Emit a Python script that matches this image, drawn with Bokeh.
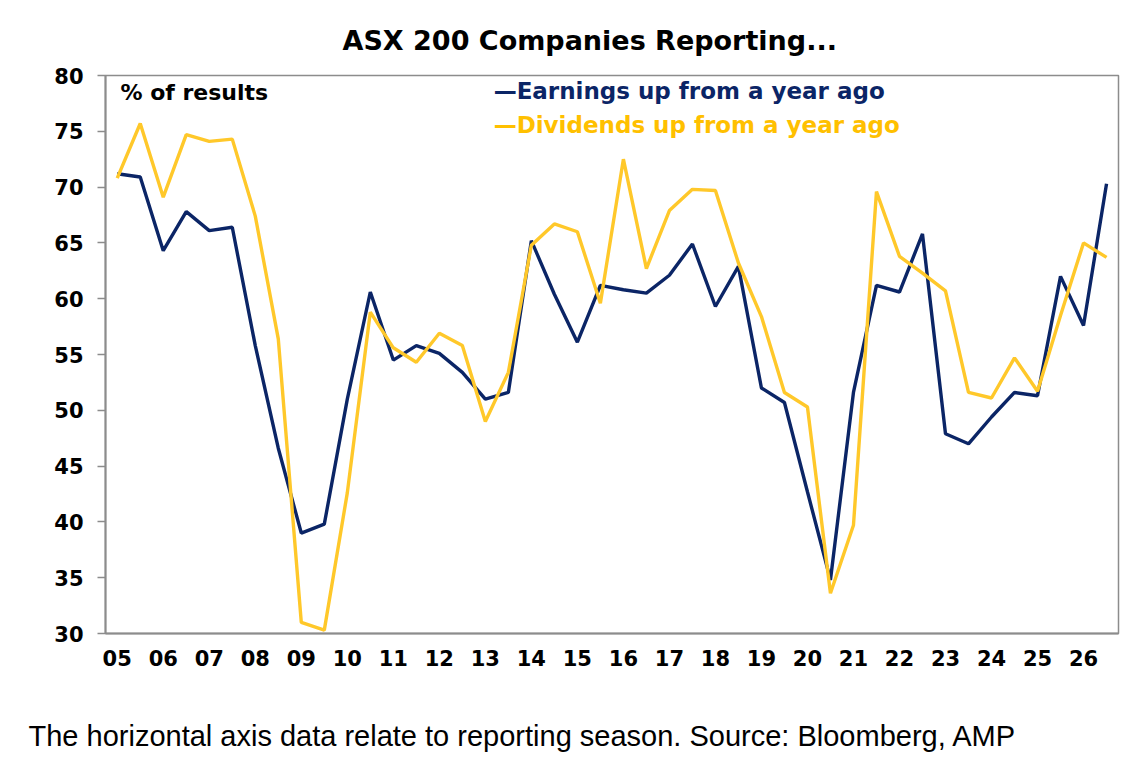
import numpy as np
from bokeh.plotting import figure
from bokeh.models import FixedTicker, Label, Range1d, Title
from bokeh.embed import file_html
from bokeh.resources import INLINE

# Reporting seasons: Feb and Aug of each year, 2005 - 2026
years = ["05", "06", "07", "08", "09", "10", "11", "12", "13", "14", "15",
         "16", "17", "18", "19", "20", "21", "22", "23", "24", "25", "26"]

earnings = [71.2, 70.9, 64.3, 67.8, 66.1, 66.4, 55.8, 46.6, 39.0, 39.8,
            51.0, 60.6, 54.5, 55.8, 55.1, 53.4, 51.0, 51.6, 65.2, 60.4,
            56.1, 61.2, 60.8, 60.5, 62.1, 64.9, 59.3, 62.9, 52.0, 50.7,
            42.7, 34.8, 51.6, 61.2, 60.6, 65.8, 47.9, 47.0, 49.4, 51.6,
            51.3, 62.0, 57.6, 70.3]

dividends = [70.8, 75.7, 69.1, 74.7, 74.1, 74.3, 67.4, 56.4, 31.0, 30.3,
             42.6, 58.8, 55.6, 54.3, 56.9, 55.8, 49.0, 53.4, 64.8, 66.7,
             66.0, 59.6, 72.5, 62.7, 67.9, 69.8, 69.7, 63.2, 58.4, 51.6,
             50.3, 33.6, 39.7, 69.6, 63.8, 62.3, 60.7, 51.6, 51.1, 54.7,
             51.7, 58.5, 65.0, 63.7]

title_text = "ASX 200 Companies Reporting..."
unit_text = "% of results"
earn_label = "\u2014Earnings up from a year ago"
div_label = "\u2014Dividends up from a year ago"
footnote = "The horizontal axis data relate to reporting season. Source: Bloomberg, AMP"

NAVY = "#0B2566"
GOLD = "#FFC82A"
AXIS_GRAY = "#8C8C8C"
FONT = "DejaVu Sans"

x = np.arange(len(earnings))

p = figure(width=1132, height=756, output_backend="svg", toolbar_location=None,
           x_range=Range1d(-0.51, 43.52), y_range=Range1d(30, 80),
           min_border_left=105, min_border_right=14, min_border_top=75,
           min_border_bottom=123, background_fill_color="white",
           border_fill_color="white")

p.title = Title(text=title_text, align="left", offset=237, standoff=40,
                text_font=FONT, text_font_style="bold", text_font_size="27px",
                text_color="black")

p.line(x, earnings, line_color=NAVY, line_width=3.4)
p.line(x, dividends, line_color=GOLD, line_width=3.4)

p.xgrid.visible = False
p.ygrid.visible = False
p.outline_line_color = AXIS_GRAY
p.outline_line_width = 1.5

# x axis
p.xaxis.ticker = FixedTicker(ticks=list(range(0, 2 * len(years), 2)))
p.xaxis.major_label_overrides = {2 * i: y for i, y in enumerate(years)}
p.xaxis.major_tick_out = 0
p.xaxis.major_tick_in = 0
p.xaxis.minor_tick_out = 0
p.xaxis.minor_tick_in = 0
p.xaxis.major_label_standoff = 16
p.xaxis.axis_line_color = AXIS_GRAY
p.xaxis.axis_line_width = 2

# y axis
p.yaxis.ticker = FixedTicker(ticks=list(range(30, 81, 5)))
p.yaxis.major_tick_out = 8
p.yaxis.major_tick_in = 0
p.yaxis.minor_tick_out = 0
p.yaxis.minor_tick_in = 0
p.yaxis.major_tick_line_color = AXIS_GRAY
p.yaxis.major_tick_line_width = 1.5
p.yaxis.major_label_standoff = 14
p.yaxis.axis_line_color = AXIS_GRAY
p.yaxis.axis_line_width = 2

for ax in (p.xaxis, p.yaxis):
    ax.major_label_text_font = FONT
    ax.major_label_text_font_style = "bold"
    ax.major_label_text_font_size = "21px"
    ax.major_label_text_color = "black"

# in-plot texts
p.add_layout(Label(x=0.14, y=78.45, text=unit_text, text_align="left",
                   text_baseline="middle", text_font=FONT, text_font_style="bold",
                   text_font_size="22px", text_color="black"))
p.add_layout(Label(x=16.36, y=78.62, text=earn_label, text_align="left",
                   text_baseline="middle", text_font=FONT, text_font_style="bold",
                   text_font_size="23px", text_color=NAVY))
p.add_layout(Label(x=16.36, y=75.55, text=div_label, text_align="left",
                   text_baseline="middle", text_font=FONT, text_font_style="bold",
                   text_font_size="23px", text_color="#FFC000"))

# spacer between the axis labels and the footnote
p.add_layout(Title(text=" ", standoff=42, text_font_size="2px"), "below")
# footnote below the chart
p.add_layout(Title(text=footnote, align="left", offset=-77, standoff=6,
                   text_font="Liberation Sans", text_font_style="normal",
                   text_font_size="29px", text_color="black"), "below")

open("out.html", "w").write(file_html(p, INLINE))
